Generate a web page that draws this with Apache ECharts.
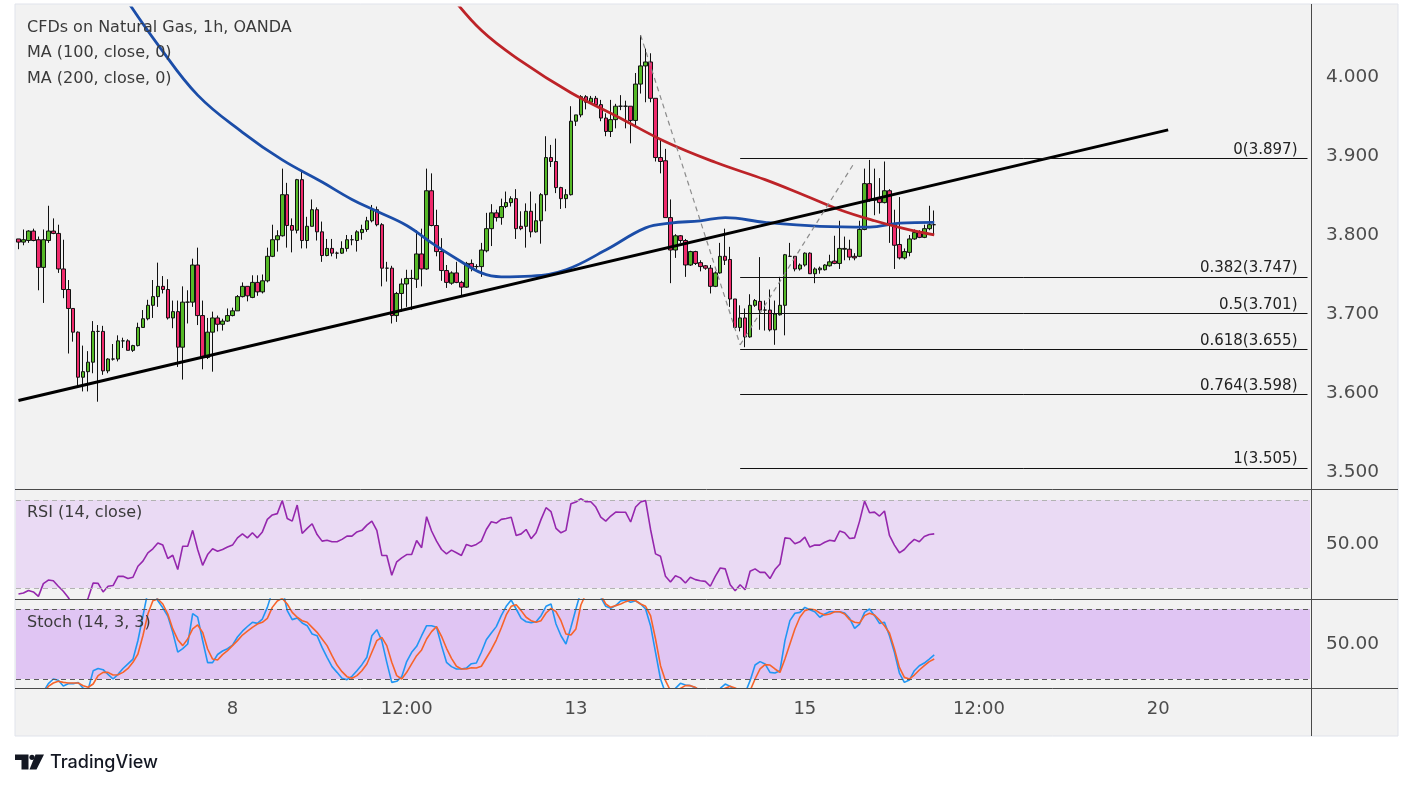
<!DOCTYPE html>
<html>
<head>
<meta charset="utf-8">
<title>CFDs on Natural Gas, 1h</title>
<script src="https://cdn.jsdelivr.net/npm/echarts@6.0.0/dist/echarts.min.js"></script>
<style>
  html, body { margin: 0; padding: 0; background: #ffffff; }
  #main { width: 1413px; height: 789px; }
</style>
</head>
<body>
<div id="main"></div>
<script>
// hourly candles (first visible bar = index 0)
var opens = [
  3.795,3.791,3.793,3.805,3.794,3.759,3.793,3.805,3.802,3.757,
  3.731,3.707,3.677,3.620,3.627,3.639,3.678,3.678,3.628,3.643,
  3.643,3.666,3.666,3.654,3.660,3.683,3.694,3.711,3.722,3.735,
  3.731,3.695,3.703,3.658,3.715,3.715,3.762,3.698,3.645,3.677,
  3.695,3.687,3.691,3.698,3.704,3.722,3.735,3.721,3.740,3.728,
  3.742,3.773,3.794,3.799,3.851,3.812,3.806,3.870,3.793,3.811,
  3.832,3.804,3.774,3.783,3.777,3.777,3.783,3.794,3.793,3.803,
  3.807,3.818,3.832,3.813,3.758,3.758,3.698,3.726,3.738,3.745,
  3.744,3.776,3.757,3.856,3.812,3.779,3.755,3.739,3.752,3.740,
  3.734,3.764,3.760,3.760,3.780,3.808,3.828,3.822,3.836,3.841,
  3.846,3.811,3.811,3.830,3.804,3.818,3.851,3.898,3.893,3.860,
  3.846,3.851,3.944,3.952,3.975,3.968,3.973,3.965,3.948,3.931,
  3.946,3.963,3.963,3.963,3.945,3.991,4.014,4.019,3.973,3.898,
  3.894,3.822,3.781,3.799,3.793,3.762,3.779,3.765,3.761,3.758,
  3.735,3.752,3.773,3.769,3.719,3.683,3.695,3.671,3.711,3.716,
  3.705,3.705,3.680,3.699,3.711,3.773,3.773,3.757,3.762,3.777,
  3.751,3.756,3.756,3.761,3.767,3.764,3.782,3.782,3.773,3.773,
  3.807,3.865,3.844,3.846,3.841,3.856,3.813,3.788,3.771,3.778,
  3.795,3.803,3.797,3.808,3.813
];
var closes = [
  3.791,3.794,3.805,3.793,3.759,3.794,3.805,3.802,3.757,3.731,
  3.707,3.677,3.620,3.627,3.639,3.678,3.678,3.628,3.643,3.643,
  3.666,3.666,3.654,3.660,3.683,3.694,3.711,3.722,3.735,3.731,
  3.695,3.703,3.658,3.715,3.715,3.762,3.698,3.645,3.677,3.695,
  3.687,3.691,3.698,3.704,3.722,3.735,3.723,3.740,3.728,3.742,
  3.773,3.794,3.799,3.851,3.812,3.806,3.870,3.793,3.811,3.832,
  3.804,3.774,3.783,3.777,3.777,3.783,3.794,3.794,3.804,3.807,
  3.818,3.832,3.813,3.758,3.758,3.698,3.726,3.738,3.745,3.745,
  3.776,3.757,3.856,3.812,3.779,3.755,3.740,3.752,3.740,3.734,
  3.764,3.759,3.760,3.781,3.808,3.828,3.822,3.836,3.841,3.846,
  3.808,3.808,3.830,3.804,3.818,3.851,3.898,3.893,3.860,3.846,
  3.851,3.944,3.952,3.975,3.968,3.973,3.965,3.948,3.931,3.946,
  3.963,3.963,3.963,3.945,3.991,4.014,4.019,3.973,3.898,3.893,
  3.822,3.781,3.799,3.793,3.762,3.779,3.764,3.760,3.758,3.735,
  3.752,3.773,3.768,3.719,3.683,3.695,3.671,3.711,3.717,3.705,
  3.705,3.680,3.700,3.711,3.775,3.773,3.757,3.762,3.777,3.751,
  3.757,3.758,3.762,3.766,3.764,3.783,3.783,3.772,3.771,3.807,
  3.865,3.844,3.846,3.841,3.856,3.813,3.787,3.771,3.779,3.795,
  3.803,3.797,3.808,3.813,3.813
];
var highs = [
  3.795,3.807,3.806,3.808,3.798,3.807,3.837,3.821,3.813,3.794,
  3.743,3.707,3.678,3.660,3.653,3.691,3.686,3.685,3.644,3.662,
  3.673,3.670,3.668,3.661,3.689,3.705,3.718,3.743,3.765,3.748,
  3.744,3.717,3.717,3.735,3.730,3.770,3.784,3.717,3.695,3.703,
  3.698,3.694,3.707,3.708,3.724,3.740,3.735,3.749,3.749,3.750,
  3.784,3.813,3.806,3.884,3.866,3.821,3.871,3.880,3.823,3.845,
  3.835,3.817,3.795,3.795,3.779,3.792,3.800,3.800,3.806,3.813,
  3.823,3.838,3.836,3.815,3.766,3.761,3.728,3.745,3.756,3.756,
  3.806,3.808,3.884,3.878,3.832,3.796,3.762,3.754,3.766,3.742,
  3.766,3.769,3.763,3.790,3.828,3.839,3.832,3.846,3.855,3.849,
  3.858,3.830,3.840,3.855,3.840,3.853,3.925,3.914,3.922,3.861,
  3.858,3.963,3.952,3.977,3.977,3.976,3.976,3.971,3.954,3.971,
  3.966,3.977,3.970,3.963,4.005,4.053,4.036,4.030,3.973,3.921,
  3.909,3.845,3.801,3.800,3.795,3.780,3.780,3.768,3.762,3.762,
  3.754,3.790,3.808,3.785,3.719,3.711,3.707,3.725,3.719,3.772,
  3.717,3.731,3.717,3.747,3.776,3.790,3.773,3.764,3.778,3.778,
  3.759,3.760,3.763,3.775,3.799,3.818,3.798,3.794,3.777,3.818,
  3.884,3.895,3.884,3.872,3.893,3.858,3.832,3.848,3.783,3.800,
  3.807,3.806,3.813,3.837,3.831
];
var lows = [
  3.782,3.787,3.790,3.792,3.730,3.714,3.790,3.801,3.752,3.720,
  3.650,3.665,3.609,3.602,3.602,3.625,3.589,3.623,3.625,3.641,
  3.640,3.657,3.654,3.652,3.659,3.683,3.692,3.695,3.709,3.726,
  3.693,3.682,3.633,3.617,3.688,3.709,3.686,3.630,3.643,3.627,
  3.678,3.679,3.690,3.697,3.704,3.721,3.716,3.720,3.723,3.726,
  3.740,3.772,3.779,3.798,3.784,3.778,3.802,3.783,3.783,3.811,
  3.793,3.766,3.773,3.773,3.770,3.776,3.779,3.787,3.779,3.794,
  3.804,3.816,3.811,3.735,3.741,3.688,3.690,3.703,3.709,3.705,
  3.733,3.735,3.756,3.811,3.773,3.742,3.733,3.737,3.739,3.724,
  3.733,3.754,3.757,3.747,3.778,3.786,3.817,3.813,3.834,3.836,
  3.795,3.806,3.784,3.797,3.803,3.789,3.830,3.886,3.853,3.833,
  3.834,3.850,3.938,3.949,3.959,3.966,3.963,3.944,3.925,3.924,
  3.935,3.958,3.935,3.916,3.939,3.979,3.968,3.968,3.893,3.878,
  3.822,3.739,3.771,3.790,3.747,3.761,3.762,3.754,3.756,3.726,
  3.734,3.751,3.762,3.709,3.682,3.678,3.658,3.670,3.709,3.680,
  3.679,3.678,3.661,3.698,3.673,3.773,3.754,3.755,3.760,3.751,
  3.739,3.751,3.755,3.760,3.763,3.757,3.768,3.768,3.768,3.772,
  3.806,3.842,3.825,3.827,3.840,3.790,3.757,3.769,3.769,3.773,
  3.794,3.796,3.796,3.806,3.800
];

// RSI (14, close)
var rsi = [
  27.3,27.7,28.9,28.2,26.2,32.0,33.6,33.3,30.8,28.5,
  25.7,22.0,19.0,21.0,25.4,32.3,32.1,28.2,30.8,31.1,
  35.3,35.3,34.3,34.9,39.9,42.2,46.0,47.8,50.5,49.5,
  43.4,44.9,38.4,49.0,49.0,56.2,47.5,40.3,45.2,47.8,
  46.7,47.5,48.6,49.5,52.8,54.6,52.8,55.1,52.8,55.5,
  61.2,63.2,63.8,69.8,61.6,60.4,67.7,54.8,57.1,59.2,
  54.3,51.3,51.7,51.0,51.0,52.1,53.6,53.6,55.5,56.2,
  58.6,60.4,56.2,44.8,44.8,35.8,41.9,43.7,45.2,45.2,
  51.6,48.3,62.4,55.9,51.3,47.5,45.5,47.2,46.0,44.8,
  49.8,49.0,49.8,51.3,56.6,60.1,59.5,61.2,61.6,62.2,
  53.9,54.6,56.6,52.4,55.1,61.2,66.5,64.7,57.1,55.1,
  56.2,68.3,69.1,70.6,69.2,69.2,66.8,62.2,60.4,62.7,
  64.5,64.4,64.4,60.0,66.8,69.1,69.8,56.6,45.5,44.4,
  35.3,32.7,35.6,34.6,32.3,34.9,33.8,33.3,33.0,30.8,
  35.3,39.1,38.7,31.5,28.8,31.5,29.2,37.6,38.7,37.1,
  37.1,34.3,38.4,40.9,52.8,52.5,50.1,51.0,53.1,48.6,
  49.5,49.5,50.8,51.7,51.3,55.9,55.1,52.5,52.8,60.4,
  69.5,64.2,64.5,62.7,65.0,53.9,49.5,46.0,47.5,50.1,
  52.1,51.0,53.4,54.3,54.6
];

// Stoch (14, 3, 3): %K and %D
var stochK = [
  6,5,8,7,3,9,16,20,19,14,
  16,16,17,12,11,27,29,28,24,20,
  24,29,33,37,53,74,95,100,87,81,
  74,60,43,46,50,76,73,53,34,34,
  41,44,46,49,56,61,65,68.6,67.7,71.4,
  81.4,95,100,98,78.6,70.9,72.3,68.0,65.7,58.6,
  57.1,47.1,38.6,30.6,25.7,20.6,19.4,22.3,27.1,32.3,
  38.6,57.1,62.3,52.9,34.3,17.1,18.0,22.0,34.9,42.9,
  48.0,57.1,65.7,65.7,64.3,48.6,34.3,30.6,28.6,28.6,
  29.4,33.1,33.7,42.9,53.7,59.4,64.9,74.3,82.3,87.7,
  80.0,72.0,69.1,68.3,69.1,74.3,82.3,84.3,67.1,57.1,
  50.0,64.3,80.0,95,100,100,98,90,82.3,80.6,
  82.9,86.9,87.7,85.7,87.1,84.3,80.0,65.7,42.9,20.0,
  8,5,12,16.3,14.9,14.3,12.6,10,8,6,
  9,12,15.7,13.7,10,8,8,18.6,32.0,34.9,
  32.9,25.7,25.1,27.1,52.9,70.0,76.3,77.1,81.4,79.4,
  77.7,72.9,75.7,77.7,77.7,77.7,76.6,72.0,63.4,67.1,
  77.1,80.0,74.3,67.7,68.6,57.1,42.9,25.1,17.1,19.1,
  27.1,31.4,33.7,37.1,40.6
];
var stochD = [
  5,5,6,6,6,7,13.7,16.6,18.0,17.1,
  16.6,16.6,16.6,14.3,12.9,15.7,22.9,25.7,25.7,23.4,
  23.7,25.7,29.1,34.3,41.4,57.1,75.7,87.1,88.6,84.3,
  75.7,62.9,53.7,48.6,54.3,62.9,66.3,60.0,45.7,37.1,
  36.3,40.9,44.3,48.6,52.9,57.7,61.0,64.3,67.1,68.6,
  72.0,81.4,86.9,89.1,84.3,77.1,72.9,70.0,68.6,64.3,
  60.0,54.3,48.6,40.0,32.0,26.3,22.0,20.6,22.9,27.1,
  32.9,42.9,52.9,55.7,48.6,34.3,22.9,20.0,25.7,32.9,
  40.0,44.9,54.3,60.6,64.9,56.6,46.3,37.7,30.9,28.6,
  28.6,29.7,29.4,30.9,38.0,45.1,53.4,63.7,74.9,82.3,
  83.7,78.6,72.9,70.0,68.6,70.0,76.6,80.6,77.7,70.0,
  58.6,57.7,62.9,83.4,93,98,97,92,84.3,81.4,
  82.9,84.3,86.3,87.7,87.1,84.3,82.3,74.3,54.3,31.4,
  18.6,10,8,12,14.3,14.3,12.9,10,8,7,
  8,10,12,13.7,12.3,10,9,10,20.0,28.6,
  32.3,32.0,28.6,25.7,37.1,50.0,62.9,72.9,78.6,80.0,
  79.4,76.6,74.9,75.7,77.7,77.7,75.7,70.9,68.6,68.0,
  74.3,76.3,74.9,70.6,65.7,59.4,45.7,30.0,21.4,20.0,
  23.4,27.7,31.4,34.9,37.1
];

// moving averages, sampled along the drawn curves: [bar index, price]
var ma100 = [
  [22,4.095],[28,4.041],[36,3.977],[45,3.930],[53,3.895],[61,3.867],
  [67,3.845],[72,3.830],[78,3.812],[83,3.790],[88,3.770],[93,3.752],
  [97,3.747],[103,3.748],[110,3.756],[118,3.781],[126,3.809],[131,3.815],
  [137,3.818],[142,3.822],[150,3.816],[161,3.811],[171,3.810],[177,3.815],
  [184,3.816]
];
var ma200 = [
  [86,4.110],[93,4.059],[101,4.020],[111,3.980],[120,3.951],[130,3.918],
  [140,3.892],[150,3.870],[158,3.850],[165,3.832],[172,3.818],[178,3.808],
  [184,3.800]
];

// drawings
var trendLine = [[0, 3.5905], [231, 3.933]];
var zigzag = [[125, 4.053], [145, 3.661], [168, 3.892]];
var fibLevels = ['0', '0.382', '0.5', '0.618', '0.764', '1'];
var fibPrices = [3.897, 3.747, 3.701, 3.655, 3.598, 3.505];
var fibFrom = 145, fibTo = 259;

var priceTicks = [3.5, 3.6, 3.7, 3.8, 3.9, 4.0];
var timeLabels = [[43, '8'], [78, '12:00'], [112, '13'], [158, '15'], [193, '12:00'], [229, '20']];
var slotCount = 260;

var FONT = 'DejaVu Sans';

var cats = [];
for (var i = 0; i < slotCount; i++) cats.push(String(i));
var labelMap = {};
timeLabels.forEach(function (t) { labelMap[String(t[0])] = t[1]; });

var candles = opens.map(function (o, i) { return [o, closes[i], lows[i], highs[i]]; });

var marks = [];
marks.push([
  { coord: trendLine[0], lineStyle: { color: '#000000', width: 3, type: 'solid' }, label: { show: false } },
  { coord: trendLine[1] }
]);
for (var k = 0; k < zigzag.length - 1; k++) {
  marks.push([
    { coord: zigzag[k], lineStyle: { color: '#8c8c8c', width: 1.2, type: [5, 4] }, label: { show: false } },
    { coord: zigzag[k + 1] }
  ]);
}
fibPrices.forEach(function (p, i) {
  marks.push([
    {
      coord: [fibFrom, p],
      lineStyle: { color: '#111111', width: 1, type: 'solid' },
      label: {
        show: true, position: 'insideEndTop', distance: [10, 1],
        formatter: fibLevels[i] + '(' + p.toFixed(3) + ')',
        color: '#222222', fontSize: 15, fontFamily: FONT
      }
    },
    { coord: [fibTo, p] }
  ]);
});

function xAx(idx, showLabels) {
  return {
    type: 'category', gridIndex: idx, data: cats, boundaryGap: true,
    axisLine: { show: false }, axisTick: { show: false }, splitLine: { show: false },
    axisLabel: showLabels ? {
      show: true, interval: 0, margin: 12, color: '#4c4c4c', fontSize: 18, fontFamily: FONT,
      formatter: function (v) { return labelMap[v] || ''; }
    } : { show: false }
  };
}
function yAx(idx, min, max, ticks, digits) {
  return {
    type: 'value', gridIndex: idx, position: 'right', min: min, max: max, scale: true,
    axisLine: { show: false }, axisTick: { show: false }, splitLine: { show: false },
    axisLabel: {
      customValues: ticks, margin: 16, color: '#4c4c4c', fontSize: 18.5, fontFamily: FONT,
      formatter: function (v) { return v.toFixed(digits); }
    }
  };
}

var chart = echarts.init(document.getElementById('main'));
chart.setOption({
  animation: false,
  textStyle: { fontFamily: FONT },
  grid: [
    { left: 16, right: 103, top: 8, height: 481 },
    { left: 16, right: 103, top: 489, height: 110 },
    { left: 16, right: 103, top: 599, height: 89 }
  ],
  xAxis: [xAx(0, false), xAx(1, false), xAx(2, true)],
  yAxis: [
    yAx(0, 3.4785, 4.0873, priceTicks, 3),
    yAx(1, 25, 75, [50], 2),
    yAx(2, 12.29, 88.57, [50], 2)
  ],
  graphic: [
    { type: 'rect', z: -10, silent: true, shape: { x: 15, y: 4, width: 1383, height: 732 },
      style: { fill: '#f2f2f2', stroke: '#e0e3eb', lineWidth: 1 } },
    { type: 'line', z: 50, silent: true, shape: { x1: 1311.5, y1: 4, x2: 1311.5, y2: 736 }, style: { stroke: '#4a4a4a', lineWidth: 1 } },
    { type: 'line', z: 50, silent: true, shape: { x1: 15, y1: 489.5, x2: 1398, y2: 489.5 }, style: { stroke: '#4a4a4a', lineWidth: 1 } },
    { type: 'line', z: 50, silent: true, shape: { x1: 15, y1: 599.5, x2: 1398, y2: 599.5 }, style: { stroke: '#4a4a4a', lineWidth: 1 } },
    { type: 'line', z: 50, silent: true, shape: { x1: 15, y1: 688.5, x2: 1398, y2: 688.5 }, style: { stroke: '#4a4a4a', lineWidth: 1 } },
    { type: 'text', z: 60, x: 27, y: 28, style: { text: 'CFDs on Natural Gas, 1h, OANDA', fill: '#3a3a3a', font: '16px "DejaVu Sans"', verticalAlign: 'middle' } },
    { type: 'text', z: 60, x: 27, y: 53, style: { text: 'MA (100, close, 0)', fill: '#3a3a3a', font: '16px "DejaVu Sans"', verticalAlign: 'middle' } },
    { type: 'text', z: 60, x: 27, y: 79, style: { text: 'MA (200, close, 0)', fill: '#3a3a3a', font: '16px "DejaVu Sans"', verticalAlign: 'middle' } },
    { type: 'text', z: 60, x: 27, y: 513, style: { text: 'RSI (14, close)', fill: '#3a3a3a', font: '16px "DejaVu Sans"', verticalAlign: 'middle' } },
    { type: 'text', z: 60, x: 27, y: 623, style: { text: 'Stoch (14, 3, 3)', fill: '#3a3a3a', font: '16px "DejaVu Sans"', verticalAlign: 'middle' } },
    // TradingView mark
    { type: 'polygon', silent: true, shape: { points: [[15, 754.5], [28.5, 754.5], [28.5, 769.5], [21.5, 769.5], [21.5, 760], [15, 760]] }, style: { fill: '#131722' } },
    { type: 'circle', silent: true, shape: { cx: 32, cy: 757.3, r: 2.6 }, style: { fill: '#131722' } },
    { type: 'polygon', silent: true, shape: { points: [[35.5, 754.5], [44, 754.5], [36.5, 769.5], [29.5, 769.5]] }, style: { fill: '#131722' } },
    { type: 'text', x: 50, y: 763, style: { text: 'TradingView', fill: '#131722', font: '500 18px Inter', verticalAlign: 'middle' } }
  ],
  series: [
    {
      type: 'candlestick', name: 'NATGAS', xAxisIndex: 0, yAxisIndex: 0, data: candles,
      barWidth: 4, clip: true,
      itemStyle: { color: '#55b927', color0: '#ef2a6c', borderColor: '#111111', borderColor0: '#111111', borderWidth: 1 },
      markLine: { silent: true, symbol: ['none', 'none'], animation: false, data: marks }
    },
    {
      type: 'line', name: 'MA 100', xAxisIndex: 0, yAxisIndex: 0, data: ma100, smooth: 0.4,
      showSymbol: false, z: 3, lineStyle: { color: '#1b4da8', width: 2.8 }
    },
    {
      type: 'line', name: 'MA 200', xAxisIndex: 0, yAxisIndex: 0, data: ma200, smooth: 0.4,
      showSymbol: false, z: 3, lineStyle: { color: '#bd2328', width: 2.8 }
    },
    {
      type: 'line', name: 'RSI', xAxisIndex: 1, yAxisIndex: 1, data: rsi, showSymbol: false,
      lineStyle: { color: '#9527ad', width: 1.6 },
      markArea: { silent: true, itemStyle: { color: '#eadaf4' }, data: [[{ yAxis: 30 }, { yAxis: 70 }]] },
      markLine: { silent: true, symbol: ['none', 'none'], label: { show: false },
        lineStyle: { color: '#b2b2b2', type: [5, 4], width: 1 }, data: [{ yAxis: 70 }, { yAxis: 30 }] }
    },
    {
      type: 'line', name: '%K', xAxisIndex: 2, yAxisIndex: 2, data: stochK, showSymbol: false,
      lineStyle: { color: '#2196f3', width: 1.6 },
      markArea: { silent: true, itemStyle: { color: '#e0c5f3' }, data: [[{ yAxis: 20 }, { yAxis: 80 }]] },
      markLine: { silent: true, symbol: ['none', 'none'], label: { show: false },
        lineStyle: { color: '#5a5a5a', type: [5, 4], width: 1 }, data: [{ yAxis: 80 }, { yAxis: 20 }] }
    },
    {
      type: 'line', name: '%D', xAxisIndex: 2, yAxisIndex: 2, data: stochD, showSymbol: false,
      lineStyle: { color: '#f7632a', width: 1.6 }
    }
  ]
});
</script>
</body>
</html>
